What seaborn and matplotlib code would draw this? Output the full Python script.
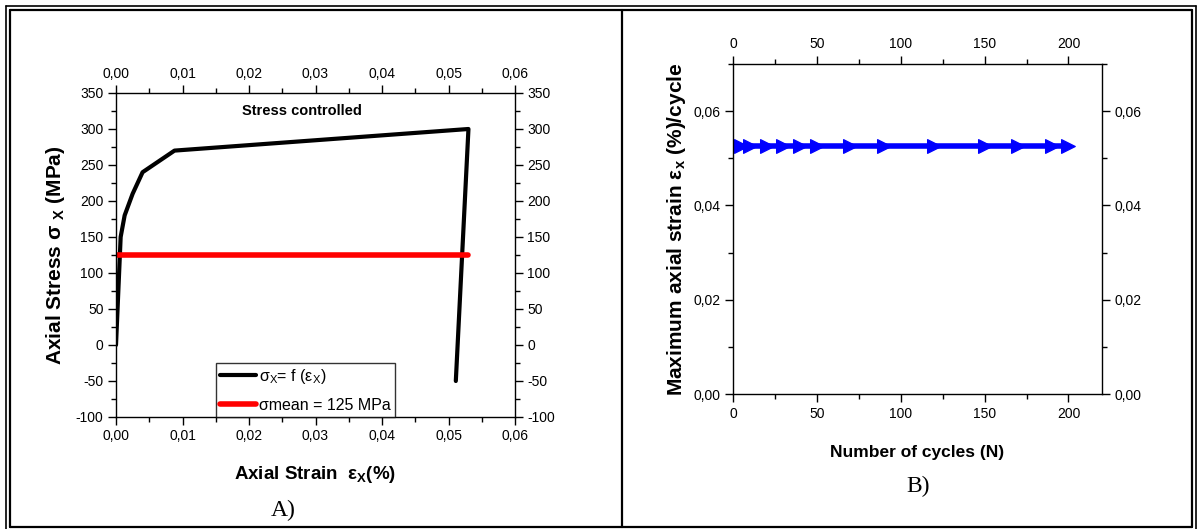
import matplotlib
matplotlib.use("Agg")
import matplotlib.pyplot as plt
import seaborn as sns
import pandas as pd
from matplotlib.ticker import MultipleLocator, FuncFormatter
from matplotlib.lines import Line2D

# panel A: stress-strain loop
strain_a = [0.0, 0.0007, 0.0013, 0.0025, 0.0040, 0.0088, 0.0530, 0.0511]
stress_a = [0, 150, 180, 210, 240, 270, 300, -50]
mean_strain = [0.0, 0.0530]
mean_stress = [125, 125]

# panel B: max axial strain per cycle
cycles = [1, 5, 10, 20, 30, 40, 50, 70, 90, 120, 150, 170, 190, 200]
max_strain = [0.0527] * len(cycles)

sns.set_style("ticks")
plt.rcParams["font.family"] = ["Liberation Sans", "DejaVu Sans"]
plt.rcParams["mathtext.fontset"] = "custom"
plt.rcParams["mathtext.rm"] = "Liberation Sans"
plt.rcParams["mathtext.it"] = "Liberation Sans"
plt.rcParams["mathtext.bf"] = "Liberation Sans:bold"
plt.rcParams["axes.unicode_minus"] = False
for k in ("text.color", "axes.labelcolor", "xtick.color", "ytick.color", "axes.edgecolor"):
    plt.rcParams[k] = "black"

fig = plt.figure(figsize=(11.98, 5.29), dpi=100)
axA = fig.add_axes([116 / 1198, 1 - 417 / 529, (515 - 116) / 1198, (417 - 93) / 529])
axB = fig.add_axes([733 / 1198, 1 - 394 / 529, (1102 - 733) / 1198, (394 - 64) / 529])

dfA = pd.DataFrame({"strain": strain_a, "stress": stress_a})
dfM = pd.DataFrame({"strain": mean_strain, "stress": mean_stress})
sns.lineplot(data=dfA, x="strain", y="stress", sort=False, color="black", lw=3, ax=axA)
sns.lineplot(data=dfM, x="strain", y="stress", sort=False, color="#ff0000", lw=4, ax=axA)

dfB = pd.DataFrame({"N": cycles, "eps": max_strain})
sns.lineplot(data=dfB, x="N", y="eps", color="#0000ff", lw=4, marker=">", markersize=10,
             markeredgecolor="#0000ff", ax=axB)

comma = lambda d: FuncFormatter(lambda v, p: f"{v:.{d}f}".replace(".", ","))

for ax in (axA, axB):
    ax.tick_params(which="both", direction="out", top=True, right=True,
                   labeltop=True, labelright=True, labelsize=10, width=1, pad=3)
    ax.tick_params(which="major", length=6)
    ax.tick_params(which="minor", length=3.5)
    for s in ax.spines.values():
        s.set_linewidth(1)

axA.set_xlim(0, 0.06)
axA.set_ylim(-100, 350)
axA.xaxis.set_major_locator(MultipleLocator(0.01))
axA.xaxis.set_minor_locator(MultipleLocator(0.005))
axA.yaxis.set_major_locator(MultipleLocator(50))
axA.yaxis.set_minor_locator(MultipleLocator(25))
axA.xaxis.set_major_formatter(comma(2))
axA.set_xlabel("Axial Strain  ε$_\\mathbf{X}$(%)", fontsize=13.5, fontweight="bold", labelpad=15)
axA.set_ylabel("Axial Stress σ $_\\mathbf{X}$ (MPa)", fontsize=15, fontweight="bold", labelpad=6)
axA.text(0.028, 325, "Stress controlled", ha="center", va="center", fontsize=10.5, fontweight="bold")

handles = [Line2D([], [], color="black", lw=3), Line2D([], [], color="#ff0000", lw=4)]
leg = axA.legend(handles, ["σ$_X$= f (ε$_X$)", "σmean = 125 MPa"],
                 loc="lower left", bbox_to_anchor=(0.25, 0.0), fontsize=11.5,
                 frameon=True, fancybox=False, borderaxespad=0, handlelength=2.3,
                 handletextpad=0.15, borderpad=0.25, labelspacing=0.75)
leg.get_frame().set_edgecolor("black")
leg.get_frame().set_linewidth(1)

axB.set_xlim(0, 220)
axB.set_ylim(0, 0.07)
axB.xaxis.set_major_locator(MultipleLocator(50))
axB.xaxis.set_minor_locator(MultipleLocator(25))
axB.yaxis.set_minor_locator(MultipleLocator(0.01))
axB.set_yticks([0, 0.02, 0.04, 0.06])
axB.yaxis.set_major_formatter(comma(2))
axB.set_xlabel("Number of cycles (N)", fontsize=12.5, fontweight="bold", labelpad=18)
axB.set_ylabel("Maximum axial strain ε$_\\mathbf{x}$ (%)/cycle", fontsize=15, fontweight="bold", labelpad=4)

fig.text(283 / 1198, 1 - 510 / 529, "A)", family="Liberation Serif", fontsize=17, ha="center", va="center")
fig.text(918 / 1198, 1 - 486 / 529, "B)", family="Liberation Serif", fontsize=17, ha="center", va="center")

# double page border and divider
def hline(y, x0, x1, lw):
    fig.add_artist(Line2D([x0 / 1198, x1 / 1198], [1 - y / 529, 1 - y / 529], color="black", lw=lw))

def vline(x, y0, y1, lw):
    fig.add_artist(Line2D([x / 1198, x / 1198], [1 - y0 / 529, 1 - y1 / 529], color="black", lw=lw))

hline(5.5, 5.5, 1196, 1.2)
vline(5.5, 5.5, 529, 1.2)
vline(1196, 5.5, 529, 1.2)
hline(10, 10, 1192, 1.6)
vline(10, 10, 527, 1.6)
vline(1192, 10, 527, 1.6)
hline(527, 10, 1192, 1.6)
vline(622, 10, 527, 1.6)

fig.savefig("out.png", dpi=100)
